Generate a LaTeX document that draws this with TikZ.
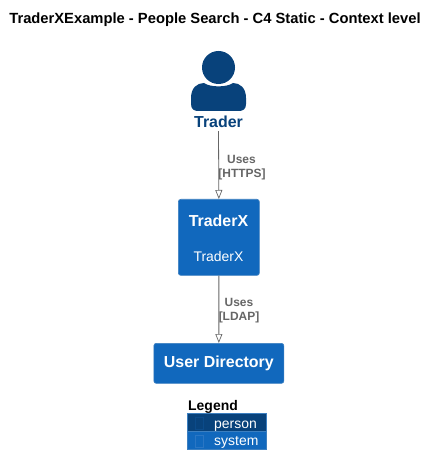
\documentclass[tikz,border=0pt]{standalone}
\usepackage{fontspec}
\setmainfont{Liberation Sans}
\usetikzlibrary{arrows.meta}
\definecolor{personblue}{HTML}{08427B}
\definecolor{systemblue}{HTML}{1168BD}
\definecolor{systemedge}{HTML}{3C7FC0}
\definecolor{linegrey}{HTML}{666666}
\definecolor{glyphperson}{HTML}{0B4B8A}
\definecolor{glyphsystem}{HTML}{2A76C4}
\newcommand{\fs}[1]{\fontsize{#1}{#1}\selectfont}
\tikzset{
  x=1bp,y=-1bp,
  sysbox/.style={draw=systemedge,fill=systemblue,rounded corners=2.5bp,line width=.7bp,inner sep=0pt,text=white,anchor=north west},
  uses/.style={draw=linegrey,line width=.8bp,-{Triangle[open,fill=white,length=9bp,width=7bp,line width=.7bp]}},
  edgelabel/.style={text=linegrey,font=\fs{12}\bfseries,align=center,inner sep=0pt,text depth=0pt},
  legendrow/.style={anchor=north west,minimum width=79bp,minimum height=18bp,inner sep=0pt,draw=systemedge,line width=.5bp},
  legendtext/.style={text=white,font=\fs{14},anchor=base west,inner sep=0pt},
  glyphbox/.style={line width=.6bp,anchor=north west,inner sep=0pt,minimum width=8bp,minimum height=12bp}
}
\begin{document}
\begin{tikzpicture}
\useasboundingbox (0,0) rectangle (437,474);
\fill[white] (0,0) rectangle (437,474);
\node[font=\fs{14.8}\bfseries,inner sep=0pt] (title) at (215,20) {TraderXExample - People Search - C4 Static - Context level};
% person
\fill[personblue] (218.5,67.5) circle (16.5);
\fill[personblue] (191,98) .. controls (191,88) and (197,83) .. (204,83) .. controls (210,87.5) and (227,87.5) .. (233,83) .. controls (240,83) and (246,88) .. (246,98) -- (246,104) .. controls (246,109) and (243,111) .. (239,111) -- (198,111) .. controls (194,111) and (191,109) .. (191,104) -- cycle;
\node[font=\fs{16}\bfseries,text=personblue,inner sep=0pt,minimum height=18bp] (trader) at (218.5,122) {Trader};
% systems
\node[sysbox,minimum width=81bp,minimum height=76bp] (traderx) at (178,199) {};
\node[text=white,font=\fs{16}\bfseries,inner sep=0pt] (traderxname) at (218.5,220.5) {TraderX};
\node[text=white,font=\fs{14},inner sep=0pt] (traderxdesc) at (218.5,257) {TraderX};
\node[sysbox,minimum width=130bp,minimum height=40bp,font=\fs{16}\bfseries] (userdir) at (153.5,343) {User Directory};
% connectors
\draw[uses] (trader.south) -- (traderx.north);
\draw[uses] (traderx.south) -- (userdir.north);
\node[edgelabel] (lab1a) at (241.5,159) {Uses};
\node[edgelabel] (lab1b) at (242,173.5) {[HTTPS]};
\node[edgelabel] (lab2a) at (239,302) {Uses};
\node[edgelabel] (lab2b) at (239,316.5) {[LDAP]};
% legend
\node[font=\fs{14}\bfseries,inner sep=0pt,anchor=base west] (legend) at (188,410) {Legend};
\node[legendrow,fill=personblue] (rowperson) at (187,413) {};
\node[legendrow,fill=systemblue,draw=none] (rowsystem) at (187,431) {};
\draw[systemedge,line width=.5bp] (rowsystem.north west) rectangle (rowsystem.south east);
\node[glyphbox,draw=glyphperson] (gperson) at (195,417) {};
\node[glyphbox,draw=glyphsystem] (gsystem) at (195,435) {};
\node[legendtext] (tperson) at (214,428) {person};
\node[legendtext] (tsystem) at (214,445) {system};
\end{tikzpicture}
\end{document}
